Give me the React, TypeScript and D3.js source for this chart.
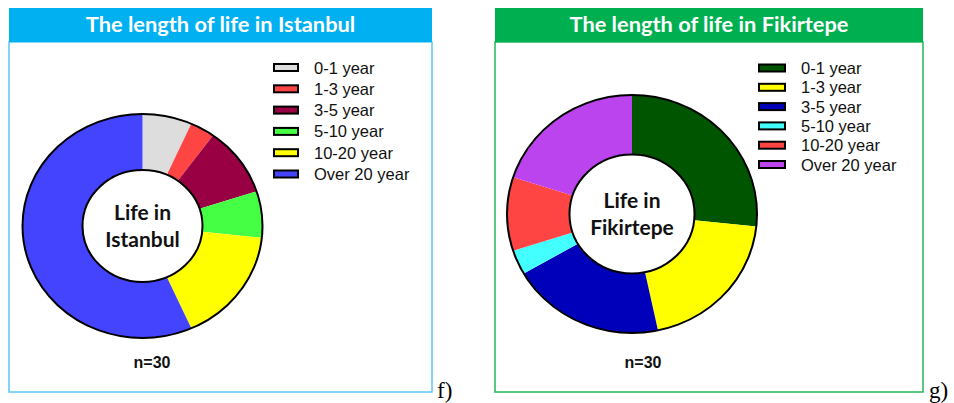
import * as d3 from 'd3'
import React from 'react'

const categories = ['0-1 year', '1-3 year', '3-5 year', '5-10 year', '10-20 year', 'Over 20 year']
const istanbulValues = [2, 1, 3, 2, 5, 17]
const fikirtepeValues = [8, 6, 6, 1, 3, 6]
const istanbulColors = ['#DDDDDD', '#FF4444', '#990044', '#44FF44', '#FFFF00', '#4444FF']
const fikirtepeColors = ['#005500', '#FFFF00', '#0000BB', '#44FFFF', '#FF4444', '#BB44EE']

interface PanelProps {
  x: number
  w: number
  title: string
  accent: string
  frame: string
  values: number[]
  colors: string[]
  cx: number
  cy: number
  rx: number
  ry: number
  center: string[]
  legendX: number
  legendY: number
  legendStep: number
  swatchW: number
  nX: number
}

const Panel = (p: PanelProps) => {
  const
    pie = d3.pie<number>().sort(null).value(d => d),
    arcs = pie(p.values),
    inner = p.rx * 0.5,
    arc = d3.arc<d3.PieArcDatum<number>>().innerRadius(inner).outerRadius(p.rx),
    sy = p.ry / p.rx
  return (
    <g>
      <rect x={p.x} y={42} width={p.w} height={350} fill='#fff' stroke={p.frame} strokeWidth={1.5} />
      <rect x={p.x} y={8} width={p.w} height={34} fill={p.accent} />
      <text x={p.x + p.w / 2} y={32} textAnchor='middle' fill='#fff' fontFamily='Lato, sans-serif' fontWeight='bold' fontSize={21.8}>{p.title}</text>
      <g transform={`translate(${p.cx},${p.cy}) scale(1,${sy})`}>
        {arcs.map((a, i) => <path key={i} d={arc(a) as string} fill={p.colors[i]} />)}
        <circle r={p.rx} fill='none' stroke='#000' strokeWidth={2} vectorEffect='non-scaling-stroke' />
        <circle r={inner} fill='#fff' stroke='#000' strokeWidth={2} vectorEffect='non-scaling-stroke' />
      </g>
      {p.center.map((t, i) => (
        <text key={t} x={p.cx} y={p.cy - 6 + i * 27} textAnchor='middle' fontFamily='Lato, sans-serif' fontWeight='bold' fontSize={21} fill='#111'>{t}</text>
      ))}
      {categories.map((c, i) => (
        <g key={c} transform={`translate(${p.legendX},${p.legendY + i * p.legendStep})`}>
          <rect x={0} y={-3.5} width={p.swatchW} height={7} fill={p.colors[i]} stroke='#000' strokeWidth={2} />
          <text x={p.swatchW + 16} y={6} fontFamily='Liberation Sans, Arial, sans-serif' fontSize={16.5} fill='#111'>{c}</text>
        </g>
      ))}
      <text x={p.nX} y={368} textAnchor='middle' fontFamily='Liberation Sans, Arial, sans-serif' fontWeight='bold' fontSize={16} fill='#111'>n=30</text>
    </g>
  )
}

export default function App() {
  return (
    <svg width={954} height={403} style={{ position: 'absolute', left: 0, top: 0, background: '#fff' }}>
      <Panel x={9} w={423} title='The length of life in Istanbul' accent='#00B0F0' frame='#5CC8F2'
        values={istanbulValues} colors={istanbulColors} cx={142.5} cy={226} rx={120} ry={112}
        center={['Life in', 'Istanbul']} legendX={274} legendY={67.5} legendStep={21.3} swatchW={24} nX={152} />
      <Panel x={495} w={428} title='The length of life in Fikirtepe' accent='#00B050' frame='#22B85A'
        values={fikirtepeValues} colors={fikirtepeColors} cx={632} cy={214} rx={125} ry={119}
        center={['Life in', 'Fikirtepe']} legendX={759} legendY={68} legendStep={19.3} swatchW={26} nX={643} />
      <text x={437} y={398} fontFamily='Liberation Serif, Times New Roman, serif' fontSize={23} fill='#000'>f)</text>
      <text x={929} y={398} fontFamily='Liberation Serif, Times New Roman, serif' fontSize={23} fill='#000'>g)</text>
    </svg>
  )
}
